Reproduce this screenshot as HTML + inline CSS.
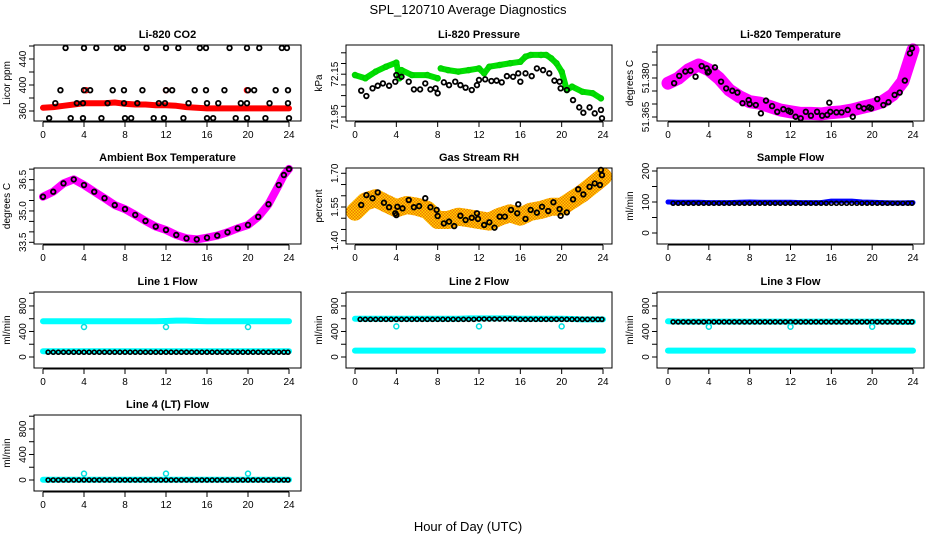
<!DOCTYPE html>
<html><head><meta charset="utf-8"><style>
html,body{margin:0;padding:0;background:#fff;}
svg{display:block;font-family:"Liberation Sans",sans-serif;}
</style></head><body>
<svg id="chart" width="936" height="540" viewBox="0 0 936 540" xmlns="http://www.w3.org/2000/svg">
<defs>
<pattern id="rhpat" width="3" height="3" patternUnits="userSpaceOnUse"><rect width="3" height="3" fill="#ffd200"/><rect width="1.5" height="1.5" fill="#f07800"/><rect x="1.5" y="1.5" width="1.5" height="1.5" fill="#f07800"/></pattern>
</defs>
<text x="468" y="14" text-anchor="middle" font-size="13">SPL_120710  Average Diagnostics</text>
<text x="468" y="531" text-anchor="middle" font-size="13">Hour of Day (UTC)</text>
</svg>
<script>
// ---------- data ----------
const hourTicks=[0,4,8,12,16,20,24];
const hh=[0,1,2,3,4,5,6,7,8,9,10,11,12,13,14,15,16,17,18,19,20,21,22,23,24];
const halfH=[0.5,1,1.5,2,2.5,3,3.5,4,4.5,5,5.5,6,6.5,7,7.5,8,8.5,9,9.5,10,10.5,11,11.5,12,12.5,13,13.5,14,14.5,15,15.5,16,16.5,17,17.5,18,18.5,19,19.5,20,20.5,21,21.5,22,22.5,23,23.5,23.9];
// CO2
const co2RedVals=[365,366,368,370,372,372,372,373,371,370,370,369,369,368,366,365,364,364,364,364,364,364,364,364,364];
const co2BlkHours=[2.2,4.0,5.2,7.2,7.8,10.1,12.0,13.2,15.3,15.9,18.2,19.9,21.1,23.3,23.8,1.7,4.0,4.6,6.8,7.9,9.7,12.0,12.6,14.8,15.9,17.7,20.0,20.6,22.7,23.9,1.2,3.3,3.9,6.3,7.9,9.2,11.3,11.9,14.2,16.0,17.1,19.3,19.9,22.1,23.9,0.6,2.7,3.9,5.7,8.0,8.6,10.8,11.8,13.7,16.0,16.6,18.8,19.9,21.7,24.0];
const co2BlkVals=[457,457,457,457,457,457,457,457,457,457,457,457,457,457,457,392,392,392,392,392,392,392,392,392,392,392,392,392,392,392,372,372,372,372,372,372,372,372,372,372,372,372,372,372,372,349,349,349,349,349,349,349,349,349,349,349,349,349,349,349];
const co2RedOutH=[4.2,12.0,19.9];
const co2RedOutV=[392,392,392];
// Pressure
const presGrnHours=[0,1,2,3,4,4.3,4.5,5.5,7,8,8.3,9,10,11,12,12.5,13,14,15,16,16.5,17,18,18.5,19,19.5,20,20.5,21,22,23,23.8];
const presGrnVals=[72.146,72.131,72.162,72.185,72.204,72.131,72.169,72.146,72.146,72.131,72.177,72.169,72.162,72.169,72.177,72.154,72.185,72.193,72.201,72.208,72.232,72.240,72.240,72.240,72.224,72.201,72.162,72.076,72.092,72.068,72.061,72.037];
const presBlkHours=[0.6,1.1,1.7,2.2,2.7,3.3,3.9,4.0,4.5,5.2,5.7,6.3,6.8,7.3,7.8,8.0,8.6,9.1,9.7,10.2,10.7,11.3,11.8,12.0,12.6,13.2,13.7,14.2,14.7,15.3,15.8,16.0,16.5,17.1,17.6,18.2,18.8,19.3,19.8,19.9,20.5,21.1,21.7,22.1,22.7,23.2,23.8,23.9];
const presBlkVals=[72.073,72.048,72.084,72.096,72.107,72.096,72.115,72.146,72.138,72.115,72.079,72.079,72.107,72.079,72.084,72.061,72.112,72.099,72.115,72.099,72.087,72.076,72.099,72.123,72.126,72.118,72.120,72.112,72.141,72.138,72.154,72.115,72.154,72.141,72.177,72.169,72.154,72.120,72.115,72.084,72.076,72.029,71.995,71.970,71.995,71.967,71.983,71.944];
// Li-820 Temperature
const tempMagVals=[51.3780,51.3799,51.3831,51.3850,51.3831,51.3799,51.3754,51.3728,51.3709,51.3703,51.3690,51.3677,51.3670,51.3664,51.3664,51.3662,51.3667,51.3670,51.3677,51.3687,51.3696,51.3709,51.3735,51.3786,51.3908];
const tempBlkHours=[0.6,1.1,1.7,2.2,2.7,3.3,3.8,3.9,4.0,4.6,5.2,5.7,6.3,6.8,7.3,7.9,8.0,8.6,9.1,9.6,10.2,10.7,11.3,11.8,12.0,12.5,13.0,13.5,14.0,14.6,15.1,15.6,15.8,15.9,16.5,17.0,17.6,18.1,18.7,19.2,19.7,19.9,20.5,21.1,21.6,22.2,22.7,23.2,23.7,23.9];
const tempBlkVals=[51.3780,51.3808,51.3825,51.3828,51.3805,51.3846,51.3837,51.3821,51.3825,51.3841,51.3786,51.3760,51.3751,51.3744,51.3703,51.3715,51.3700,51.3696,51.3664,51.3713,51.3692,51.3670,51.3680,51.3674,51.3670,51.3651,51.3645,51.3670,51.3655,51.3670,51.3655,51.3658,51.3705,51.3670,51.3668,51.3668,51.3677,51.3651,51.3690,51.3683,51.3687,51.3683,51.3719,51.3696,51.3707,51.3735,51.3744,51.3790,51.3895,51.3914];
// Ambient box temperature
const boxHours=[0,1,2,3,4,5,6,7,8,9,10,11,12,13,14,15,16,17,18,19,20,21,22,23,23.5,24];
const boxVals=[35.68,35.92,36.32,36.51,36.24,35.92,35.61,35.28,35.09,34.81,34.52,34.25,34.09,33.85,33.69,33.64,33.72,33.82,33.98,34.17,34.33,34.72,35.32,36.24,36.72,37.01];
// Gas stream RH
const rhBandVals=[1.529,1.574,1.589,1.566,1.544,1.559,1.551,1.537,1.492,1.492,1.507,1.500,1.492,1.485,1.507,1.522,1.507,1.529,1.537,1.551,1.551,1.581,1.611,1.648,1.685];
const rhBlkHours=[0.6,1.1,1.7,2.2,2.8,3.3,3.9,4.0,4.1,4.6,5.2,5.7,6.2,6.8,7.3,7.9,8.0,8.6,9.1,9.6,10.2,10.7,11.3,11.8,11.9,12.5,13.0,13.5,14.0,14.5,15.1,15.7,15.8,16.5,17.0,17.6,18.1,18.7,19.2,19.8,19.9,20.5,21.1,21.6,22.1,22.7,23.2,23.7,23.8,23.9];
const rhBlkVals=[1.559,1.603,1.589,1.615,1.569,1.549,1.522,1.514,1.551,1.544,1.581,1.549,1.554,1.589,1.549,1.537,1.510,1.477,1.485,1.465,1.511,1.492,1.502,1.522,1.497,1.470,1.482,1.458,1.507,1.507,1.537,1.522,1.562,1.497,1.537,1.525,1.551,1.532,1.571,1.541,1.511,1.526,1.584,1.629,1.606,1.640,1.655,1.648,1.715,1.692];
// Sample flow
const sampBlueVals=[100,99,99,99,98,98,98,99,100,99,99,99,99,98,98,98,103,103,103,100,99,98,97,97,98];
const sampBlkVals=[96,96,96,96,96,96,96,96,96,96,96,96,96,96,96,96,96,96,96,96,96,96,96,96,96,96,96,96,96,96,96,96,96,96,96,96,96,96,96,96,96,96,96,96,96,96,96,96];
// Line flows
const l1CyanTop=[560,560,560,560,560,560,560,560,560,560,560,560,565,570,570,565,560,560,560,560,560,560,560,560,560];
const l1CyanLow=[90,90,90,90,90,90,90,90,90,90,90,90,90,90,90,90,90,90,90,90,90,90,90,90,90];
const l1Blk=[75,75,75,75,75,75,75,75,75,75,75,75,75,75,75,75,75,75,75,75,75,75,75,75,75,75,75,75,75,75,75,75,75,75,75,75,75,75,75,75,75,75,75,75,75,75,75,75];
const l2CyanTop=[600,600,600,600,600,600,600,600,600,600,600,605,605,605,605,605,600,600,600,600,600,595,590,590,590];
const l2CyanLow=[100,100,100,100,100,100,100,100,100,100,100,100,100,100,100,100,100,100,100,100,100,100,100,100,100];
const l2Blk=[590,590,590,590,590,590,590,590,590,590,590,590,590,590,590,590,590,590,590,590,590,590,590,595,595,595,595,595,595,595,595,590,590,590,590,590,590,590,590,590,590,590,590,590,590,590,590,590];
const l3CyanTop=[560,555,555,555,555,555,555,555,555,555,555,555,555,555,555,555,555,555,555,555,555,555,555,550,550];
const l3CyanLow=[100,100,100,100,100,100,100,100,100,100,100,100,100,100,100,100,100,100,100,100,100,100,100,100,100];
const l3Blk=[550,550,550,550,550,550,550,550,550,550,550,550,550,550,550,550,550,550,550,550,550,550,550,550,550,550,550,550,550,550,550,550,550,550,550,550,550,550,550,550,550,550,550,550,550,550,550,550];
const l4Cyan=[5,5,5,5,5,5,5,5,5,5,5,5,5,5,5,5,5,5,5,5,5,5,5,5,5];
const l4Blk=[0,0,0,0,0,0,0,0,0,0,0,0,0,0,0,0,0,0,0,0,0,0,0,0,0,0,0,0,0,0,0,0,0,0,0,0,0,0,0,0,0,0,0,0,0,0,0,0];
const outHours=[4,12,20];
const l1Out=[470,470,470];
const l2Out=[480,480,480];
const l3Out=[475,475,475];
const l4Out=[100,100,100];

// ---------- drawing ----------
const svg=document.getElementById('chart');
const NS='http://www.w3.org/2000/svg';
function mk(tag,attrs,parent){const e=document.createElementNS(NS,tag);for(const k in attrs)e.setAttribute(k,attrs[k]);(parent||svg).appendChild(e);return e;}
const cols=[{l:34,r:301,x0:43,x24:289},{l:346,r:612,x0:355,x24:603},{l:657,r:924,x0:668,x24:913}];
const rowTops=[45,168,292,415];
const BH=76;

function panel(name,col,row,title,ylab,ax){
  const c=cols[col],top=rowTops[row],bot=top+BH;
  const g=mk('g',{});
  
  
  const xs=h=>c.x0+(c.x24-c.x0)*h/24;
  const ys=v=>top+ax.p0-(v-ax.v0)*ax.k;
  const plot=mk('g',{},g);
  
  
  const box=mk('rect',{x:c.l,y:top,width:c.r-c.l,height:BH,fill:'none',stroke:'#000','stroke-width':1},g);
  
  
  const t=mk('text',{x:(c.l+c.r)/2,y:top-7,'text-anchor':'middle','font-size':11,'font-weight':'bold'},g);
  t.textContent=title;
  
  
  const yl=mk('text',{transform:`translate(${c.l-24},${top+BH/2}) rotate(-90)`,'text-anchor':'middle','font-size':10},g);
  yl.textContent=ylab;
  
  
  const xa=mk('g',{},g);
  
  
  mk('line',{x1:xs(0),x2:xs(24),y1:bot+1,y2:bot+1,stroke:'#000'},xa);
  hourTicks.forEach(h=>{
    mk('line',{x1:xs(h),x2:xs(h),y1:bot+1,y2:bot+6,stroke:'#000'},xa);
    const tx=mk('text',{x:xs(h),y:bot+17,'text-anchor':'middle','font-size':10},xa);
    tx.textContent=h;
    
    
  });
  const ya=mk('g',{},g);
  
  
  ax.ticks.forEach(v=>{mk('line',{x1:c.l-5,x2:c.l,y1:ys(v),y2:ys(v),stroke:'#000'},ya);});
  ax.labels.forEach(v=>{
    const tx=mk('text',{transform:`translate(${c.l-8},${ys(v)}) rotate(-90)`,'text-anchor':'middle','font-size':10},ya);
    tx.textContent=ax.fmt?ax.fmt(v):v;
    
    
  });
  return {xs,ys,g:plot};
}
function pts(p,hours,vals,color,r,sw,name){
  const g=mk('g',{},p.g);
  
  
  hours.forEach((h,i)=>{mk('circle',{cx:p.xs(h),cy:p.ys(vals[i]),r:r,fill:'none',stroke:color,'stroke-width':sw},g);});
}
function band(p,hours,vals,stroke,w,name){
  const d=hours.map((h,i)=>(i?'L':'M')+p.xs(h).toFixed(1)+','+p.ys(vals[i]).toFixed(1)).join('');
  const e=mk('path',{d:d,fill:'none',stroke:stroke,'stroke-width':w,'stroke-linecap':'round','stroke-linejoin':'round'},p.g);
  
  
}
function range(a,b,s){const o=[];for(let v=a;v<=b+s/1000;v+=s)o.push(+v.toFixed(4));return o;}

let p=panel('co2',0,0,'Li-820 CO2','Licor ppm',{v0:360,p0:66,k:0.65,ticks:range(360,460,20),labels:[360,400,440]});
band(p,hh,co2RedVals,'#f00',6,'co2-red-series');
pts(p,co2RedOutH,co2RedOutV,'#f00',2.5,1.5,'co2-red-outliers');
pts(p,co2BlkHours,co2BlkVals,'#000',2.3,1.8,'co2-black-series');

p=panel('pressure',1,0,'Li-820 Pressure','kPa',{v0:71.95,p0:72,k:214,ticks:range(71.95,72.25,0.05),labels:[71.95,72.15],fmt:v=>v.toFixed(2)});
band(p,presGrnHours.slice(0,10),presGrnVals.slice(0,10),'#00e000',6,'pressure-green-band-a');
band(p,presGrnHours.slice(10),presGrnVals.slice(10),'#00e000',6,'pressure-green-band-b');
pts(p,presGrnHours,presGrnVals,'#00d000',2.5,1.5,'pressure-green-points');
pts(p,presBlkHours,presBlkVals,'#000',2.3,1.8,'pressure-black-series');

p=panel('li820-temp',2,0,'Li-820 Temperature','degrees C',{v0:51.365,p0:72,k:2600,ticks:range(51.365,51.39,0.005),labels:[51.365,51.38],fmt:v=>v.toFixed(3)});
band(p,hh,tempMagVals,'#ff00ff',13,'temp-magenta-band');
pts(p,hh,tempMagVals,'#ff00ff',3,1.5,'temp-magenta-points');
pts(p,tempBlkHours,tempBlkVals,'#000',2.3,1.8,'temp-black-series');

p=panel('box-temp',0,1,'Ambient Box Temperature','degrees C',{v0:33.5,p0:74.3,k:20.9,ticks:range(33.5,37,0.5),labels:[33.5,35,36.5],fmt:v=>v.toFixed(1)});
band(p,boxHours,boxVals,'#ff00ff',8,'box-magenta-band');
pts(p,boxHours,boxVals,'#000',2.3,1.8,'box-black-series');

p=panel('rh',1,1,'Gas Stream RH','percent',{v0:1.40,p0:72.7,k:224.7,ticks:range(1.4,1.7,0.05),labels:[1.4,1.55,1.7],fmt:v=>v.toFixed(2)});
band(p,hh,rhBandVals,'url(#rhpat)',18,'rh-orange-band');
pts(p,rhBlkHours,rhBlkVals,'#000',2.3,1.8,'rh-black-series');

p=panel('sample-flow',2,1,'Sample Flow','ml/min',{v0:0,p0:65,k:0.31,ticks:[0,50,100,150,200],labels:[0,100,200]});
band(p,hh,sampBlueVals,'#0000ff',5,'sample-blue-series');
pts(p,halfH,sampBlkVals,'#000',2,1.6,'sample-black-series');

const flowAx={v0:0,p0:65,k:0.0638,ticks:[0,200,400,600,800,1000],labels:[0,400,800]};
p=panel('line1-flow',0,2,'Line 1 Flow','ml/min',flowAx);
band(p,hh,l1CyanTop,'#00ffff',6,'line1-cyan-top');
band(p,hh,l1CyanLow,'#00ffff',6,'line1-cyan-low');
pts(p,halfH,l1Blk,'#000',2,1.6,'line1-black-series');
pts(p,outHours,l1Out,'#00e0e0',2.5,1.5,'line1-outliers');
p=panel('line2-flow',1,2,'Line 2 Flow','ml/min',flowAx);
band(p,hh,l2CyanTop,'#00ffff',6,'line2-cyan-top');
band(p,hh,l2CyanLow,'#00ffff',6,'line2-cyan-low');
pts(p,halfH,l2Blk,'#000',2,1.6,'line2-black-series');
pts(p,outHours,l2Out,'#00e0e0',2.5,1.5,'line2-outliers');
p=panel('line3-flow',2,2,'Line 3 Flow','ml/min',flowAx);
band(p,hh,l3CyanTop,'#00ffff',6,'line3-cyan-top');
band(p,hh,l3CyanLow,'#00ffff',6,'line3-cyan-low');
pts(p,halfH,l3Blk,'#000',2,1.6,'line3-black-series');
pts(p,outHours,l3Out,'#00e0e0',2.5,1.5,'line3-outliers');
p=panel('line4-flow',0,3,'Line 4 (LT) Flow','ml/min',flowAx);
band(p,hh,l4Cyan,'#00ffff',6,'line4-cyan-series');
pts(p,halfH,l4Blk,'#000',2,1.6,'line4-black-series');
pts(p,outHours,l4Out,'#00e0e0',2.5,1.5,'line4-outliers');
</script>
</body></html>
